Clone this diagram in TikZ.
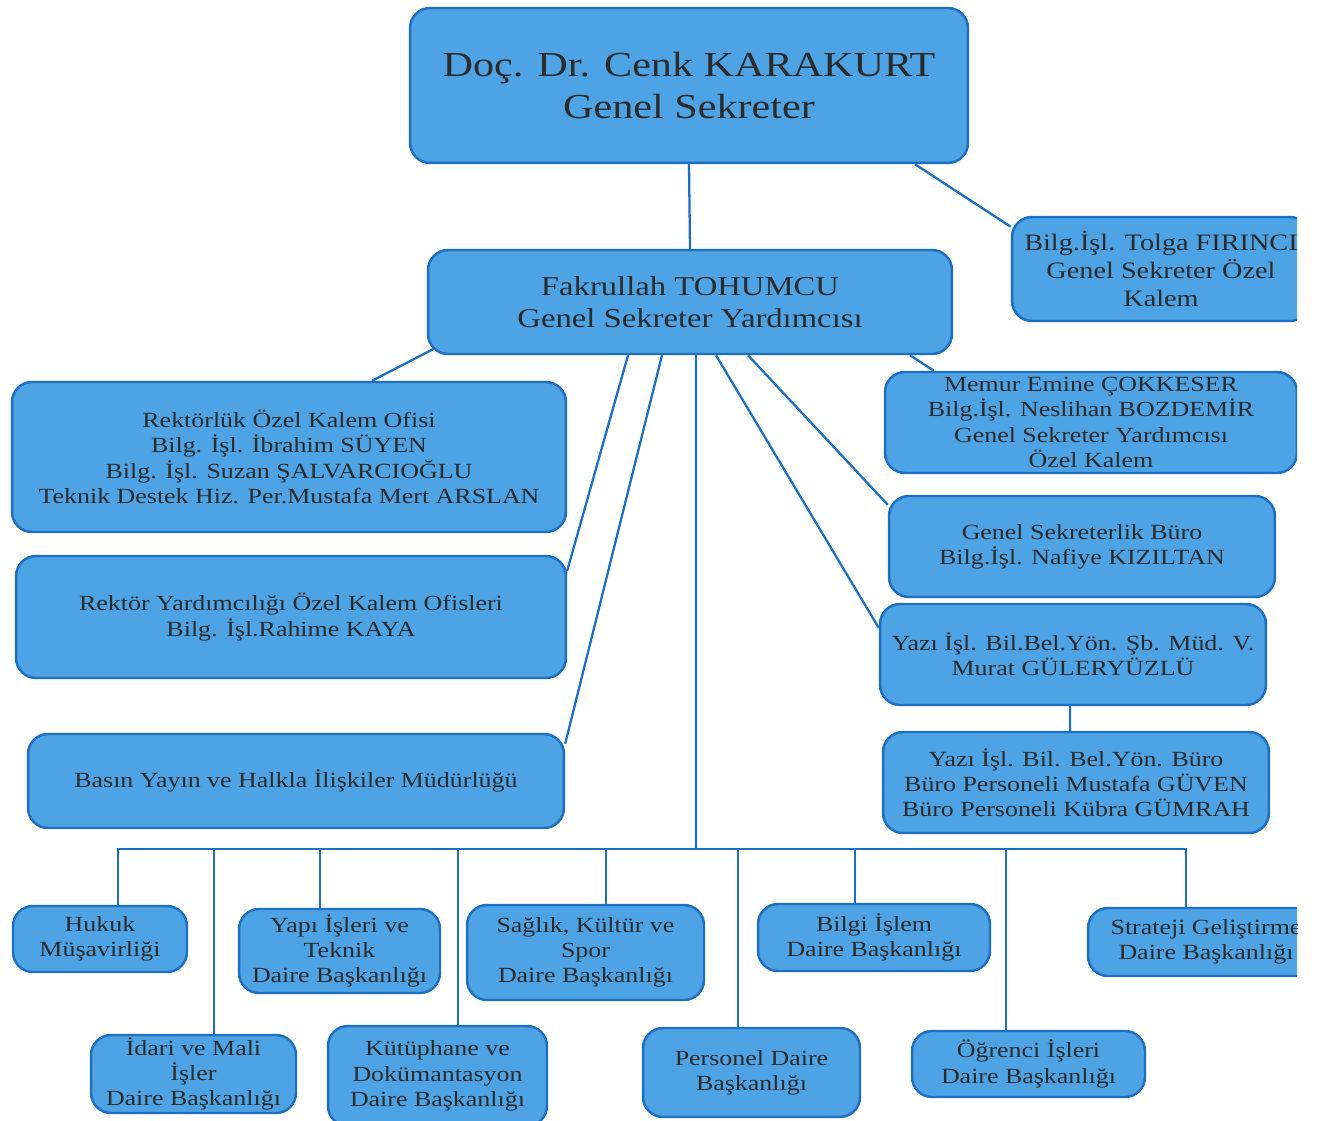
\documentclass[tikz,border=0pt]{standalone}
\usepackage{fontspec}
\setmainfont{Liberation Serif}[FakeStretch=1.2]
\usetikzlibrary{backgrounds}
\definecolor{unitblue}{HTML}{4EA3E5}
\definecolor{edgeblue}{HTML}{1E6EC2}
\definecolor{inkgray}{HTML}{2B2B2B}

\begin{document}
\begin{tikzpicture}[x=0.02cm, y=-0.02cm]
\tikzstyle{unit} = [rectangle, rounded corners=0.4cm, draw=edgeblue, fill=unitblue, line width=1.4pt, text=inkgray, align=center, inner sep=0pt, font=\fontsize{12.3}{14.4}\selectfont]
\tikzstyle{link} = [draw=edgeblue, line width=1.3pt]

\useasboundingbox (0,0) rectangle (1322,1121);
\clip (0,0) rectangle (1297,1121);

\node (chief) [unit, minimum width=11.16cm, minimum height=3.1cm, font=\fontsize{20}{23.8}\selectfont] at (689,85.5) {Doç. Dr. Cenk KARAKURT\\Genel Sekreter};
\node (deputy) [unit, minimum width=10.48cm, minimum height=2.08cm, font=\fontsize{15.5}{18}\selectfont] at (690,302) {Fakrullah TOHUMCU\\Genel Sekreter Yardımcısı};
\node (tolga) [unit, minimum width=5.96cm, minimum height=2.08cm, font=\fontsize{13.4}{15.9}\selectfont] at (1161,269) {Bilg.İşl. Tolga FIRINCI\\Genel Sekreter Özel\\Kalem};

% left column
\node (rektorluk) [unit, minimum width=11.08cm, minimum height=3cm] at (289,457) {Rektörlük Özel Kalem Ofisi\\Bilg. İşl. İbrahim SÜYEN\\Bilg. İşl. Suzan ŞALVARCIOĞLU\\Teknik Destek Hiz. Per.Mustafa Mert ARSLAN};
\node (rekyard) [unit, minimum width=11cm, minimum height=2.44cm] at (291,617) {Rektör Yardımcılığı Özel Kalem Ofisleri\\Bilg. İşl.Rahime KAYA};
\node (basin) [unit, minimum width=10.72cm, minimum height=1.88cm] at (296,781) {Basın Yayın ve Halkla İlişkiler Müdürlüğü};

% right column
\node (emine) [unit, minimum width=8.24cm, minimum height=2.02cm] at (1091,422.5) {Memur Emine ÇOKKESER\\Bilg.İşl. Neslihan BOZDEMİR\\Genel Sekreter Yardımcısı\\Özel Kalem};
\node (buro) [unit, minimum width=7.72cm, minimum height=2.02cm] at (1082,546.5) {Genel Sekreterlik Büro\\Bilg.İşl. Nafiye KIZILTAN};
\node (murat) [unit, minimum width=7.72cm, minimum height=2.02cm] at (1073,654.5) {Yazı İşl. Bil.Bel.Yön. Şb. Müd. V.\\Murat GÜLERYÜZLÜ};
\node (yaziburo) [unit, minimum width=7.72cm, minimum height=2.02cm] at (1076,782.5) {Yazı İşl. Bil. Bel.Yön. Büro\\Büro Personeli Mustafa GÜVEN\\Büro Personeli Kübra GÜMRAH};

% departments
\node (hukuk) [unit, minimum width=3.48cm, minimum height=1.32cm] at (100,939) {Hukuk\\Müşavirliği};
\node (yapi) [unit, minimum width=4.02cm, minimum height=1.68cm] at (339.5,951) {Yapı İşleri ve\\Teknik\\Daire Başkanlığı};
\node (saglik) [unit, minimum width=4.74cm, minimum height=1.9cm] at (585.5,952.5) {Sağlık, Kültür ve\\Spor\\Daire Başkanlığı};
\node (bilgi) [unit, minimum width=4.64cm, minimum height=1.34cm] at (874,937.5) {Bilgi İşlem\\Daire Başkanlığı};
\node (strateji) [unit, minimum width=4.72cm, minimum height=1.36cm] at (1206,942) {Strateji Geliştirme\\Daire Başkanlığı};
\node (idari) [unit, minimum width=4.1cm, minimum height=1.56cm] at (193.5,1074) {İdari ve Mali\\İşler\\Daire Başkanlığı};
\node (kutuphane) [unit, minimum width=4.38cm, minimum height=2cm] at (437.5,1076) {Kütüphane ve\\Dokümantasyon\\Daire Başkanlığı};
\node (personel) [unit, minimum width=4.34cm, minimum height=1.78cm] at (751.5,1072.5) {Personel Daire\\Başkanlığı};
\node (ogrenci) [unit, minimum width=4.66cm, minimum height=1.32cm] at (1028.5,1064) {Öğrenci İşleri\\Daire Başkanlığı};

\coordinate (hub) at (696,849);

% Draw links
\begin{scope}[on background layer]
\draw[link] (chief.south) -- (deputy.north);
\draw[link] ([xshift=4.52cm]chief.south) -- ([yshift=-0.22cm]tolga.north west);
\draw[link] ([xshift=0.24cm, yshift=0.18cm]deputy.south west) -- ([xshift=1.66cm]rektorluk.north);
\draw[link] ([xshift=-1.24cm]deputy.south) -- ([yshift=-0.32cm]rekyard.north east);
\draw[link] ([xshift=-0.56cm]deputy.south) -- ([yshift=-0.22cm]basin.north east);
\draw[link] ([xshift=0.12cm]deputy.south) -- (hub);
\draw[link] ([xshift=0.52cm]deputy.south) -- ([yshift=0.53cm]murat.west);
\draw[link] ([xshift=1.16cm]deputy.south) -- ([yshift=-0.2cm]buro.north west);
\draw[link] ([xshift=4.4cm]deputy.south) -- ([xshift=1cm]emine.north west);
\draw[link] ([xshift=-0.06cm]murat.south) -- ([xshift=-0.12cm]yaziburo.north);
\foreach \unitname/\dx in {hukuk/0.36, idari/0.41, yapi/-0.39, kutuphane/0.41, saglik/0.41, personel/-0.27, bilgi/-0.38, ogrenci/-0.45, strateji/-0.4} {
    \draw[link] ([xshift=\dx cm]\unitname.north) |- (hub);
}
\end{scope}

\end{tikzpicture}
\end{document}
